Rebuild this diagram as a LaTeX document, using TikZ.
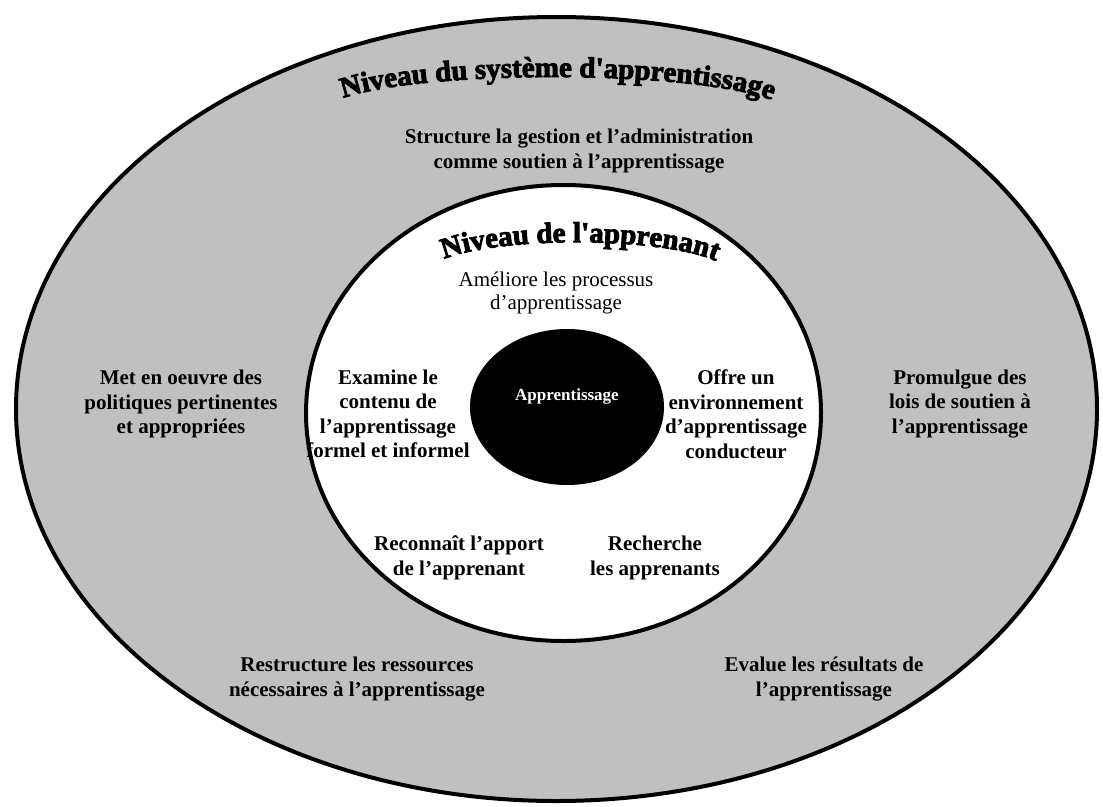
\documentclass[tikz,border=0pt]{standalone}
\usepackage{fontspec}
\setmainfont{Liberation Serif}
\newfontfamily\titlefamily{Liberation Serif}[Ligatures=TeXOff]
\usepackage{xcolor}
\usepackage{tikz}
\usetikzlibrary{decorations.text}

\definecolor{levelgray}{RGB}{192,192,192}
\newcommand\archfont{\titlefamily\bfseries\fontsize{29}{29}\selectfont\special{pdf:literal direct 2 Tr 0.9 w}}

\begin{document}
\begin{tikzpicture}[x=1pt, y=-1pt,
  every node/.style={align=center, inner sep=0pt, font=\bfseries\fontsize{21}{24.5}\selectfont},
  thin text/.style={font=\fontsize{21}{23.5}\selectfont}]
   \useasboundingbox (0,0) rectangle (1103,806);

   % the three levels
   \draw[line width=4pt, fill=levelgray] (556.5,409) ellipse [x radius=540.5, y radius=392];
   \fill[white] (563.5,413) ellipse [x radius=257.5, y radius=228];
   \fill (567,407) ellipse [x radius=97, y radius=78];

   % curved titles
   \path[decorate, decoration={text along path, text align=center,
      text={|\archfont|Niveau du système d'apprentissage}}]
      (338,100) .. controls (415,69) and (700,69) .. (777,102);
   \path[decorate, decoration={text along path, text align=center,
      text={|\archfont|Niveau de l'apprenant}}]
      (442,260) .. controls (495,236) and (665,236) .. (718,262);

   \node (structure) at (579,151) {Structure la gestion et l’administration\\comme soutien à l’apprentissage};
   \node[thin text] (ameliore) at (556,293) {Améliore les processus\\d’apprentissage};
   \node[text=white, font=\bfseries\fontsize{17}{20}\selectfont] (centre) at (567,396) {Apprentissage};

   \node (metoeuvre) at (181,404) {Met en oeuvre des\\politiques pertinentes\\et appropriées};
   \node (examine) at (388,414) {Examine le\\contenu de\\l’apprentissage\\formel et informel};
   \node (offre) at (736,414) {Offre un\\environnement\\d’apprentissage\\conducteur};
   \node (promulgue) at (960,404) {Promulgue des\\lois de soutien à\\l’apprentissage};

   \node (reconnait) at (459,558) {Reconnaît l’apport\\de l’apprenant};
   \node (recherche) at (655,558) {Recherche\\les apprenants};

   \node (restructure) at (357,679) {Restructure les ressources\\nécessaires à l’apprentissage};
   \node (evalue) at (824,679) {Evalue les résultats de\\l’apprentissage};

   % border of the learner level, over its texts
   \draw[line width=4pt] (563.5,413) ellipse [x radius=257.5, y radius=228];
\end{tikzpicture}
\end{document}
